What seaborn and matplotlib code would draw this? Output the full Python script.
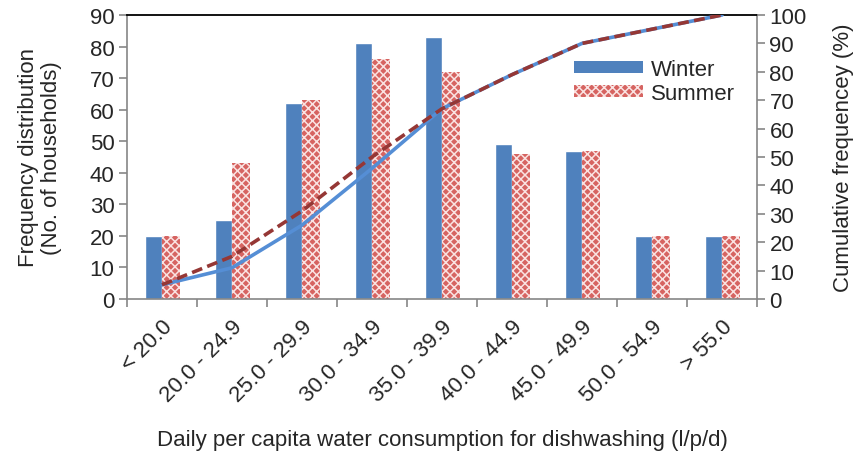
import numpy as np
import pandas as pd
import matplotlib
matplotlib.use("Agg")
import matplotlib.pyplot as plt
import seaborn as sns
from matplotlib.patches import Patch

# data
categories = ["< 20.0", "20.0 - 24.9", "25.0 - 29.9", "30.0 - 34.9", "35.0 - 39.9",
              "40.0 - 44.9", "45.0 - 49.9", "50.0 - 54.9", "> 55.0"]
winter = [20, 25, 62, 81, 83, 49, 47, 20, 20]
summer = [20, 43, 63, 76, 72, 46, 47, 20, 20]
winter_cum = [5, 11, 26, 46, 67, 79, 90, 95, 100]
summer_cum = [5, 15, 31, 50, 67, 79, 90, 95, 100]

sns.set_style("white")
plt.rcParams['font.family'] = ['Liberation Sans', 'DejaVu Sans']
plt.rcParams['hatch.linewidth'] = 1.1

FS = 16
BLUE = "#4F81BD"
RED = "#D66461"
LIGHT = "#FAE3E2"

df = pd.DataFrame({
    "range": categories * 2,
    "count": winter + summer,
    "season": ["Winter"] * len(categories) + ["Summer"] * len(categories),
})

fig = plt.figure(figsize=(8.58, 4.52), dpi=100)
ax = fig.add_axes([127/858, 1 - 300/452, (757-127)/858, (300-16)/452])

sns.barplot(data=df, x="range", y="count", hue="season", order=categories,
            hue_order=["Winter", "Summer"], palette=[BLUE, RED],
            width=0.5, gap=0, saturation=1, ax=ax, legend=False)

# hatch the summer bars
n = len(categories)
for i, p in enumerate(ax.patches):
    if n <= i < 2 * n:
        p.set_facecolor(RED)
        p.set_hatch("xxxx")
        p.set_edgecolor(LIGHT)
        p.set_linewidth(0)

ax.set_ylim(0, 90)
ax.set_yticks(range(0, 91, 10))
ax.set_xlim(-0.5, n - 0.5)
ax.set_xticks(np.arange(n))
ax.set_xticklabels(categories, rotation=45, ha="right", rotation_mode="anchor", fontsize=FS)
ax.tick_params(axis="x", length=0, pad=12)
ax.set_xticks(np.arange(n + 1) - 0.5, minor=True)
ax.tick_params(axis="x", which="minor", length=6, color="#868686", width=1.2, direction="out")
ax.tick_params(axis="y", length=6, color="#868686", width=1.2, direction="out", labelsize=FS, pad=3)
ax.yaxis.set_ticks_position("left")
ax.xaxis.set_ticks_position("bottom")
ax.set_xlabel("Daily per capita water consumption for dishwashing (l/p/d)", fontsize=FS, labelpad=17)
ax.set_ylabel("Frequency distribution\n(No. of households)", fontsize=FS, labelpad=20, linespacing=1.1)

for s in ["left", "right", "bottom"]:
    ax.spines[s].set_color("#868686")
    ax.spines[s].set_linewidth(1.2)
ax.spines["top"].set_color("black")
ax.spines["top"].set_linewidth(1.3)

# cumulative frequency lines on the second axis
ax2 = ax.twinx()
pos = np.arange(n)
sns.lineplot(x=pos, y=winter_cum, ax=ax2, color="#558ED5", linewidth=2.6)
sns.lineplot(x=pos, y=summer_cum, ax=ax2, color="#953735", linewidth=2.6, linestyle=(0, (3, 1.5)))
ax2.set_ylim(0, 100)
ax2.set_yticks(range(0, 101, 10))
ax2.tick_params(axis="y", length=6, color="#868686", width=1.2, direction="out", labelsize=FS, pad=3)
ax2.set_ylabel("Cumulative frequencey (%)", fontsize=FS, labelpad=19)
for s in ax2.spines.values():
    s.set_visible(False)
ax2.set_xlim(-0.5, n - 0.5)

# legend for the bars only
handles = [Patch(facecolor=BLUE, edgecolor="none", label="Winter"),
           Patch(facecolor=RED, hatch="xxxx", edgecolor=LIGHT, linewidth=0, label="Summer")]
ax2.legend(handles=handles, loc="upper left", bbox_to_anchor=(0.71, 0.845), frameon=False,
           fontsize=FS, handlelength=3.1, handleheight=0.45, handletextpad=0.35,
           labelspacing=0.15, borderaxespad=0, borderpad=0)

fig.savefig("out.png", dpi=100)
